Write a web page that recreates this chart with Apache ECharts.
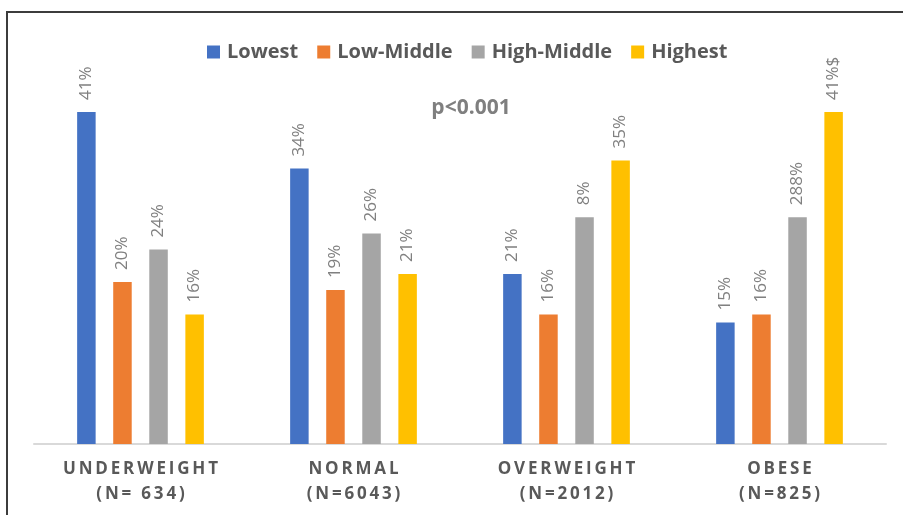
<!DOCTYPE html>
<html>
<head>
<meta charset="utf-8">
<script src="https://cdn.jsdelivr.net/npm/echarts@6/dist/echarts.min.js"></script>
<style>
  html, body { margin: 0; padding: 0; background: #ffffff; }
  #chart { width: 903px; height: 515px; }
</style>
</head>
<body>
<div id="chart"></div>
<script>
// BMI groups and sample sizes
const categories = ['UNDERWEIGHT', 'NORMAL', 'OVERWEIGHT', 'OBESE'];
const sampleSizes = ['(N= 634)', '(N=6043)', '(N=2012)', '(N=825)'];

// Percentages per income group
const lowest     = [41, 34, 21, 15];
const lowMiddle  = [20, 19, 16, 16];
const highMiddle = [24, 26, 28, 28];
const highest    = [16, 21, 35, 41];

// Text printed above each bar
const lowestLabels     = ['41%', '34%', '21%', '15%'];
const lowMiddleLabels  = ['20%', '19%', '16%', '16%'];
const highMiddleLabels = ['24%', '26%', '8%', '288%'];
const highestLabels    = ['16%', '21%', '35%', '41%$'];

const seriesNames = ['Lowest', 'Low-Middle', 'High-Middle', 'Highest'];
const colors = ['#4472c4', '#ed7d31', '#a5a5a5', '#ffc000'];
const values = [lowest, lowMiddle, highMiddle, highest];
const labels = [lowestLabels, lowMiddleLabels, highMiddleLabels, highestLabels];

const FONT = '"Open Sans", "Noto Sans", sans-serif';
const spread = s => s.split('').join('\u2009');

const chart = echarts.init(document.getElementById('chart'), null, { renderer: 'canvas' });

chart.setOption({
  animation: false,
  backgroundColor: '#ffffff',
  textStyle: { fontFamily: FONT },
  legend: {
    left: 202,
    top: 37,
    itemWidth: 13,
    itemHeight: 13,
    itemGap: 19,
    icon: 'rect',
    textStyle: { fontFamily: FONT, fontSize: 20, fontWeight: 'bold', color: '#595959', padding: [0, 0, 0, 2] },
    data: seriesNames
  },
  title: {
    text: 'p<0.001',
    left: 466,
    top: 93,
    textAlign: 'center',
    textStyle: { fontFamily: FONT, fontSize: 21, fontWeight: 'bold', color: '#7f7f7f' }
  },
  grid: { left: 34, right: 17, top: 39, bottom: 71, containLabel: false },
  xAxis: {
    type: 'category',
    data: categories,
    axisLine: { lineStyle: { color: '#d9d9d9', width: 2 } },
    axisTick: { show: false },
    axisLabel: {
      margin: 13,
      fontFamily: FONT,
      fontSize: 17,
      fontWeight: 'bold',
      color: '#595959',
      lineHeight: 25,
      formatter: (v, i) => spread(v) + '\n' + spread(sampleSizes[i])
    }
  },
  yAxis: { type: 'value', min: 0, max: 50, show: false, splitLine: { show: false } },
  graphic: [
    { type: 'line', shape: { x1: 7, y1: 12, x2: 903, y2: 12 }, style: { stroke: '#3c3c3c', lineWidth: 2 } },
    { type: 'line', shape: { x1: 7, y1: 11, x2: 7, y2: 515 }, style: { stroke: '#3c3c3c', lineWidth: 2 } }
  ],
  series: seriesNames.map((name, k) => ({
    name,
    type: 'bar',
    data: values[k],
    barWidth: 18.5,
    barGap: '95%',
    itemStyle: { color: colors[k] },
    label: {
      show: true,
      position: 'top',
      rotate: 90,
      align: 'left',
      verticalAlign: 'middle',
      distance: 12,
      fontFamily: FONT,
      fontSize: 17,
      color: '#808080',
      formatter: p => labels[k][p.dataIndex]
    }
  }))
});
</script>
</body>
</html>
